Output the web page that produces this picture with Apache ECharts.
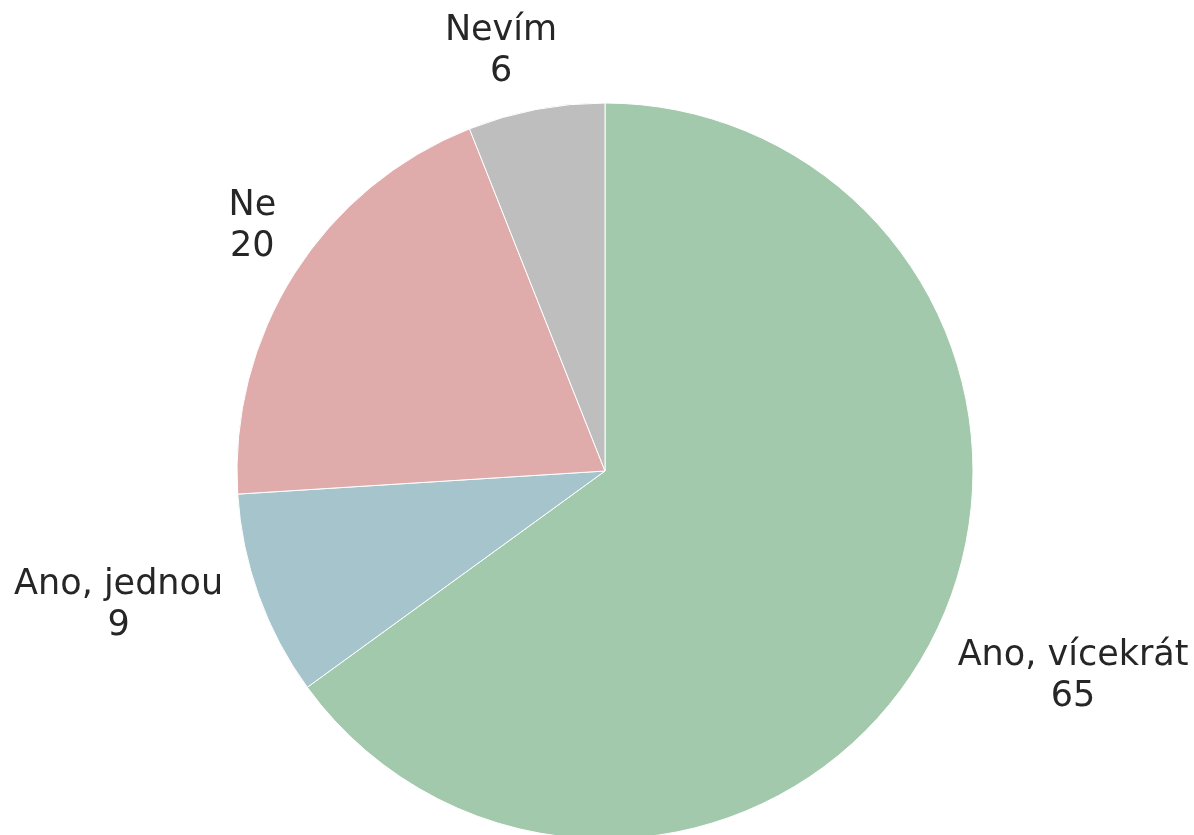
<!DOCTYPE html>
<html>
<head>
<meta charset="utf-8">
<script src="https://cdn.jsdelivr.net/npm/echarts@6/dist/echarts.min.js"></script>
<style>
  html, body { margin: 0; padding: 0; background: #ffffff; }
  #chart { width: 1194px; height: 835px; }
</style>
</head>
<body>
<div id="chart"></div>
<script>
// Survey answers and their counts, drawn clockwise from 12 o'clock
const categories = ['Ano, vícekrát', 'Ano, jednou', 'Ne', 'Nevím'];
const counts = [65, 9, 20, 6];
const sliceColors = ['#a3c9ad', '#a5c4cb', '#e0abab', '#bebebe'];

// Pie geometry (px)
const CX = 605, CY = 471, R = 368;
// Labels sit at 1.1 × radius along each slice's mid-angle, pushed outward by side
const LABEL_DIST = 1.1;
// Small per-label fine tuning (px) applied after the side alignment
const LABEL_NUDGE = [[-8, 22], [-1, -3], [13, -28], [28, -22]];

const total = counts.reduce((a, b) => a + b, 0);

function midAngle(i) {
  let before = 0;
  for (let k = 0; k < i; k++) before += counts[k];
  const frac = (before + counts[i] / 2) / total;
  return (90 - frac * 360) * Math.PI / 180;
}

const chart = echarts.init(document.getElementById('chart'), null, { renderer: 'canvas' });

chart.setOption({
  backgroundColor: '#ffffff',
  animation: false,
  series: [{
    type: 'pie',
    center: [CX, CY],
    radius: [0, R],
    startAngle: 90,
    clockwise: true,
    avoidLabelOverlap: false,
    data: categories.map((name, i) => ({
      name: name,
      value: counts[i],
      itemStyle: { color: sliceColors[i] }
    })),
    itemStyle: { borderColor: '#ffffff', borderWidth: 1 },
    emphasis: { disabled: true },
    label: {
      show: true,
      position: 'outside',
      formatter: '{b}\n{c}',
      fontFamily: 'DejaVu Sans',
      fontSize: 35,
      lineHeight: 41,
      color: '#262626',
      align: 'center'
    },
    labelLine: { show: false },
    labelLayout: function (p) {
      const i = p.dataIndex;
      const a = midAngle(i);
      const ax = CX + LABEL_DIST * R * Math.cos(a);
      const ay = CY - LABEL_DIST * R * Math.sin(a);
      const w = p.labelRect.width;
      const onRight = Math.cos(a) >= 0;
      return {
        x: (onRight ? ax + w / 2 : ax - w / 2) + LABEL_NUDGE[i][0],
        y: ay + LABEL_NUDGE[i][1],
        align: 'center',
        verticalAlign: 'middle'
      };
    }
  }]
});
</script>
</body>
</html>
